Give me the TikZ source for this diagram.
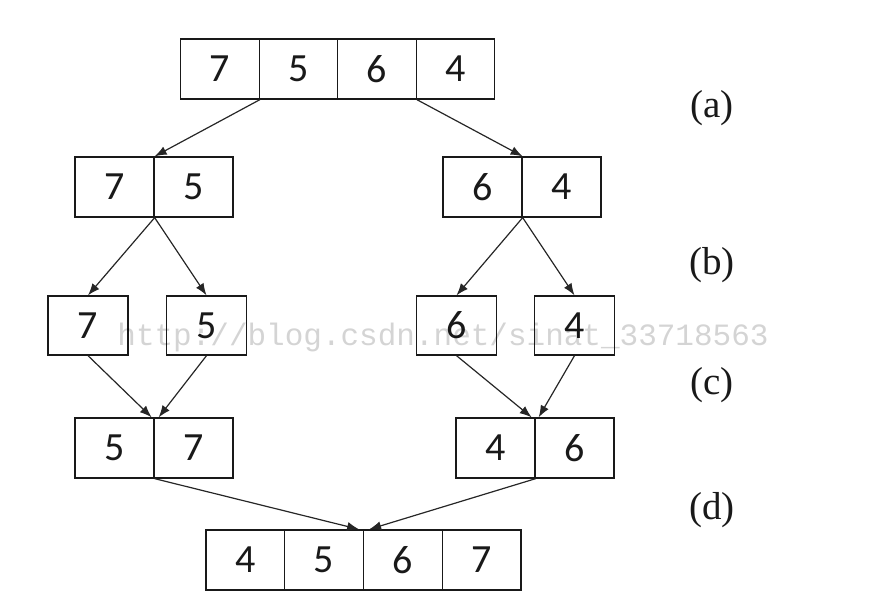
\documentclass[tikz,border=0pt]{standalone}
\usepackage{fontspec}
\setmainfont{Liberation Serif}
\newfontfamily\cellfont{Carlito}
\newfontfamily\wmfont{Liberation Mono}
\usetikzlibrary{arrows.meta}
\begin{document}
\begin{tikzpicture}[x=1pt,y=-1pt,
  cell/.style={draw=black!90,line width=1.3pt,fill=white,minimum height=60pt,inner sep=0pt,font=\cellfont\fontsize{40}{46}\selectfont,text=black!90},
  cw/.style={minimum width=#1pt},
  arr/.style={draw=black!85,line width=1.2pt,-{Latex[length=12pt,width=9pt]}},
  lab/.style={font=\fontsize{39}{44}\selectfont,text=black!90}]
\useasboundingbox (0,0) rectangle (888,613);
% top row
\node[cell,cw=78.5] (t0) at (220,69) {7};
\node[cell,cw=78.5] (t1) at (298.5,69) {5};
\node[cell,cw=78.5] (t2) at (377,69) {6};
\node[cell,cw=78.5] (t3) at (455.5,69) {4};
% row b
\node[cell,cw=79] (bl0) at (114.5,187) {7};
\node[cell,cw=79] (bl1) at (193.5,187) {5};
\node[cell,cw=79] (br0) at (482.5,187) {6};
\node[cell,cw=79] (br1) at (561.5,187) {4};
% row c
\node[cell,cw=80,minimum height=59pt] (c1) at (88,325.5) {7};
\node[cell,cw=80,minimum height=59pt] (c2) at (206.5,325.5) {5};
\node[cell,cw=80,minimum height=59pt] (c3) at (456.5,325.5) {6};
\node[cell,cw=80,minimum height=59pt] (c4) at (574.5,325.5) {4};
% row d
\node[cell,cw=79] (dl0) at (114.5,448) {5};
\node[cell,cw=79] (dl1) at (193.5,448) {7};
\node[cell,cw=79] (dr0) at (495.5,448) {4};
\node[cell,cw=79] (dr1) at (574.5,448) {6};
% bottom row
\node[cell,cw=78.75] (e0) at (245.4,560) {4};
\node[cell,cw=78.75] (e1) at (324.1,560) {5};
\node[cell,cw=78.75] (e2) at (402.9,560) {6};
\node[cell,cw=78.75] (e3) at (481.6,560) {7};
% arrows
\draw[arr] (t0.south east) -- (bl0.north east);
\draw[arr] (t2.south east) -- (br0.north east);
\draw[arr] (bl0.south east) -- (c1.north);
\draw[arr] (bl0.south east) -- (c2.north);
\draw[arr] (br0.south east) -- (c3.north);
\draw[arr] (br0.south east) -- (c4.north);
\draw[arr] (c1.south) -- ([xshift=-3pt]dl0.north east);
\draw[arr] (c2.south) -- ([xshift=4pt]dl0.north east);
\draw[arr] (c3.south) -- ([xshift=-4pt]dr0.north east);
\draw[arr] (c4.south) -- ([xshift=3pt]dr0.north east);
\draw[arr] (dl0.south east) -- ([xshift=-5pt]e1.north east);
\draw[arr] (dr0.south east) -- ([xshift=5pt]e1.north east);
% labels
\node[lab] (la) at (712,108) {(a)};
\node[lab] (lb) at (712,265) {(b)};
\node[lab] (lc) at (712,385) {(c)};
\node[lab] (ld) at (712,510) {(d)};
% watermark
\node[font=\wmfont\fontsize{31}{36}\selectfont,text=black,opacity=0.17,inner sep=0pt] (wm) at (443,337) {http://blog.csdn.net/sinat\_33718563};
\end{tikzpicture}
\end{document}
